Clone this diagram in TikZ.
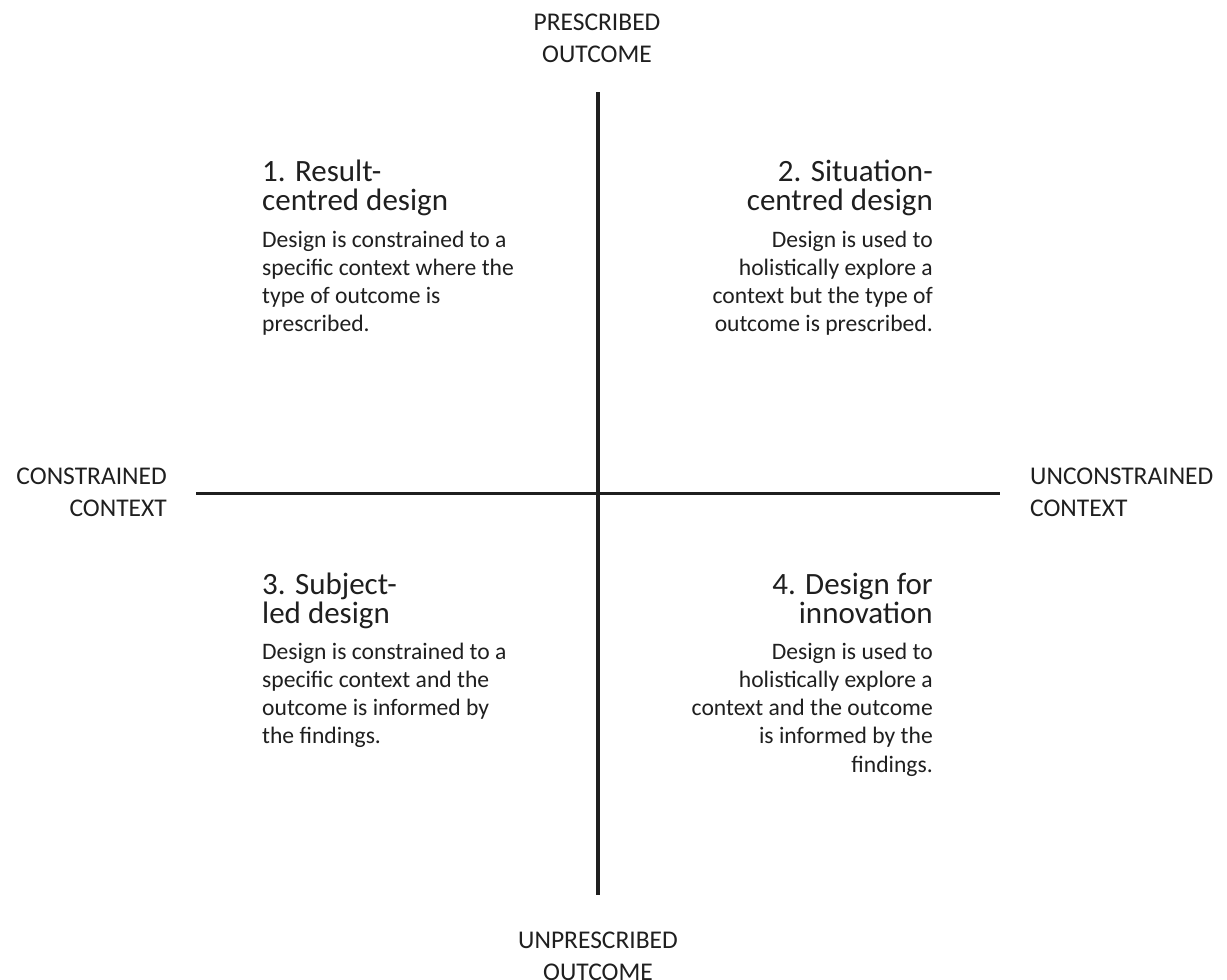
\documentclass[tikz,border=0pt]{standalone}
\usepackage{fontspec}
\setmainfont{Carlito}
\begin{document}
\begin{tikzpicture}[x=1pt,y=-1pt,
  axis/.style={line width=3.8pt,color=black!88},
  axlabel/.style={inner sep=0pt,text=black!88,font=\fontsize{25.5}{32}\selectfont},
  qtitle/.style={inner sep=0pt,text=black!88,font=\fontsize{31}{28}\selectfont},
  qbody/.style={inner sep=0pt,text=black!88,font=\fontsize{23.6}{28.3}\selectfont}]
\useasboundingbox (0,0) rectangle (1227,980);
\fill[white] (0,0) rectangle (1227,980);
% axes
\coordinate (vt) at (598,92);
\coordinate (vb) at (598,895);
\coordinate (hl) at (196,493.5);
\coordinate (hr) at (1000,493.5);
\draw[axis] (vt) -- (vb);
\draw[axis] (hl) -- (hr);
% axis labels
\node[axlabel,anchor=base] (pre) at (597,30) {\begin{tabular}[t]{@{}c@{}}PRESCRIBED\\OUTCOME\end{tabular}};
\node[axlabel,anchor=base] (unpre) at (598,948) {\begin{tabular}[t]{@{}c@{}}UNPRESCRIBED\\OUTCOME\end{tabular}};
\node[axlabel,anchor=base east] (con) at (167,484) {\begin{tabular}[t]{@{}r@{}}CONSTRAINED\\CONTEXT\end{tabular}};
\node[axlabel,anchor=base west] (uncon) at (1030,484) {\begin{tabular}[t]{@{}l@{}}UNCONSTRAINED\\CONTEXT\end{tabular}};
% quadrant 1
\node[qtitle,anchor=base west] (t1) at (262,181) {\begin{tabular}[t]{@{}l@{}}1. Result-\\centred design\end{tabular}};
\node[qbody,anchor=base west] (b1) at (262,247) {\begin{tabular}[t]{@{}l@{}}Design is constrained to a\\specific context where the\\type of outcome is\\prescribed.\end{tabular}};
% quadrant 2
\node[qtitle,anchor=base east] (t2) at (933,181) {\begin{tabular}[t]{@{}r@{}}2. Situation-\\centred design\end{tabular}};
\node[qbody,anchor=base east] (b2) at (933,247) {\begin{tabular}[t]{@{}r@{}}Design is used to\\holistically explore a\\context but the type of\\outcome is prescribed.\end{tabular}};
% quadrant 3
\node[qtitle,anchor=base west] (t3) at (262,594) {\begin{tabular}[t]{@{}l@{}}3. Subject-\\led design\end{tabular}};
\node[qbody,anchor=base west] (b3) at (262,659) {\begin{tabular}[t]{@{}l@{}}Design is constrained to a\\specific context and the\\outcome is informed by\\the findings.\end{tabular}};
% quadrant 4
\node[qtitle,anchor=base east] (t4) at (933,594) {\begin{tabular}[t]{@{}r@{}}4. Design for\\innovation\end{tabular}};
\node[qbody,anchor=base east] (b4) at (933,659) {\begin{tabular}[t]{@{}r@{}}Design is used to\\holistically explore a\\context and the outcome\\is informed by the\\findings.\end{tabular}};
\end{tikzpicture}
\end{document}
